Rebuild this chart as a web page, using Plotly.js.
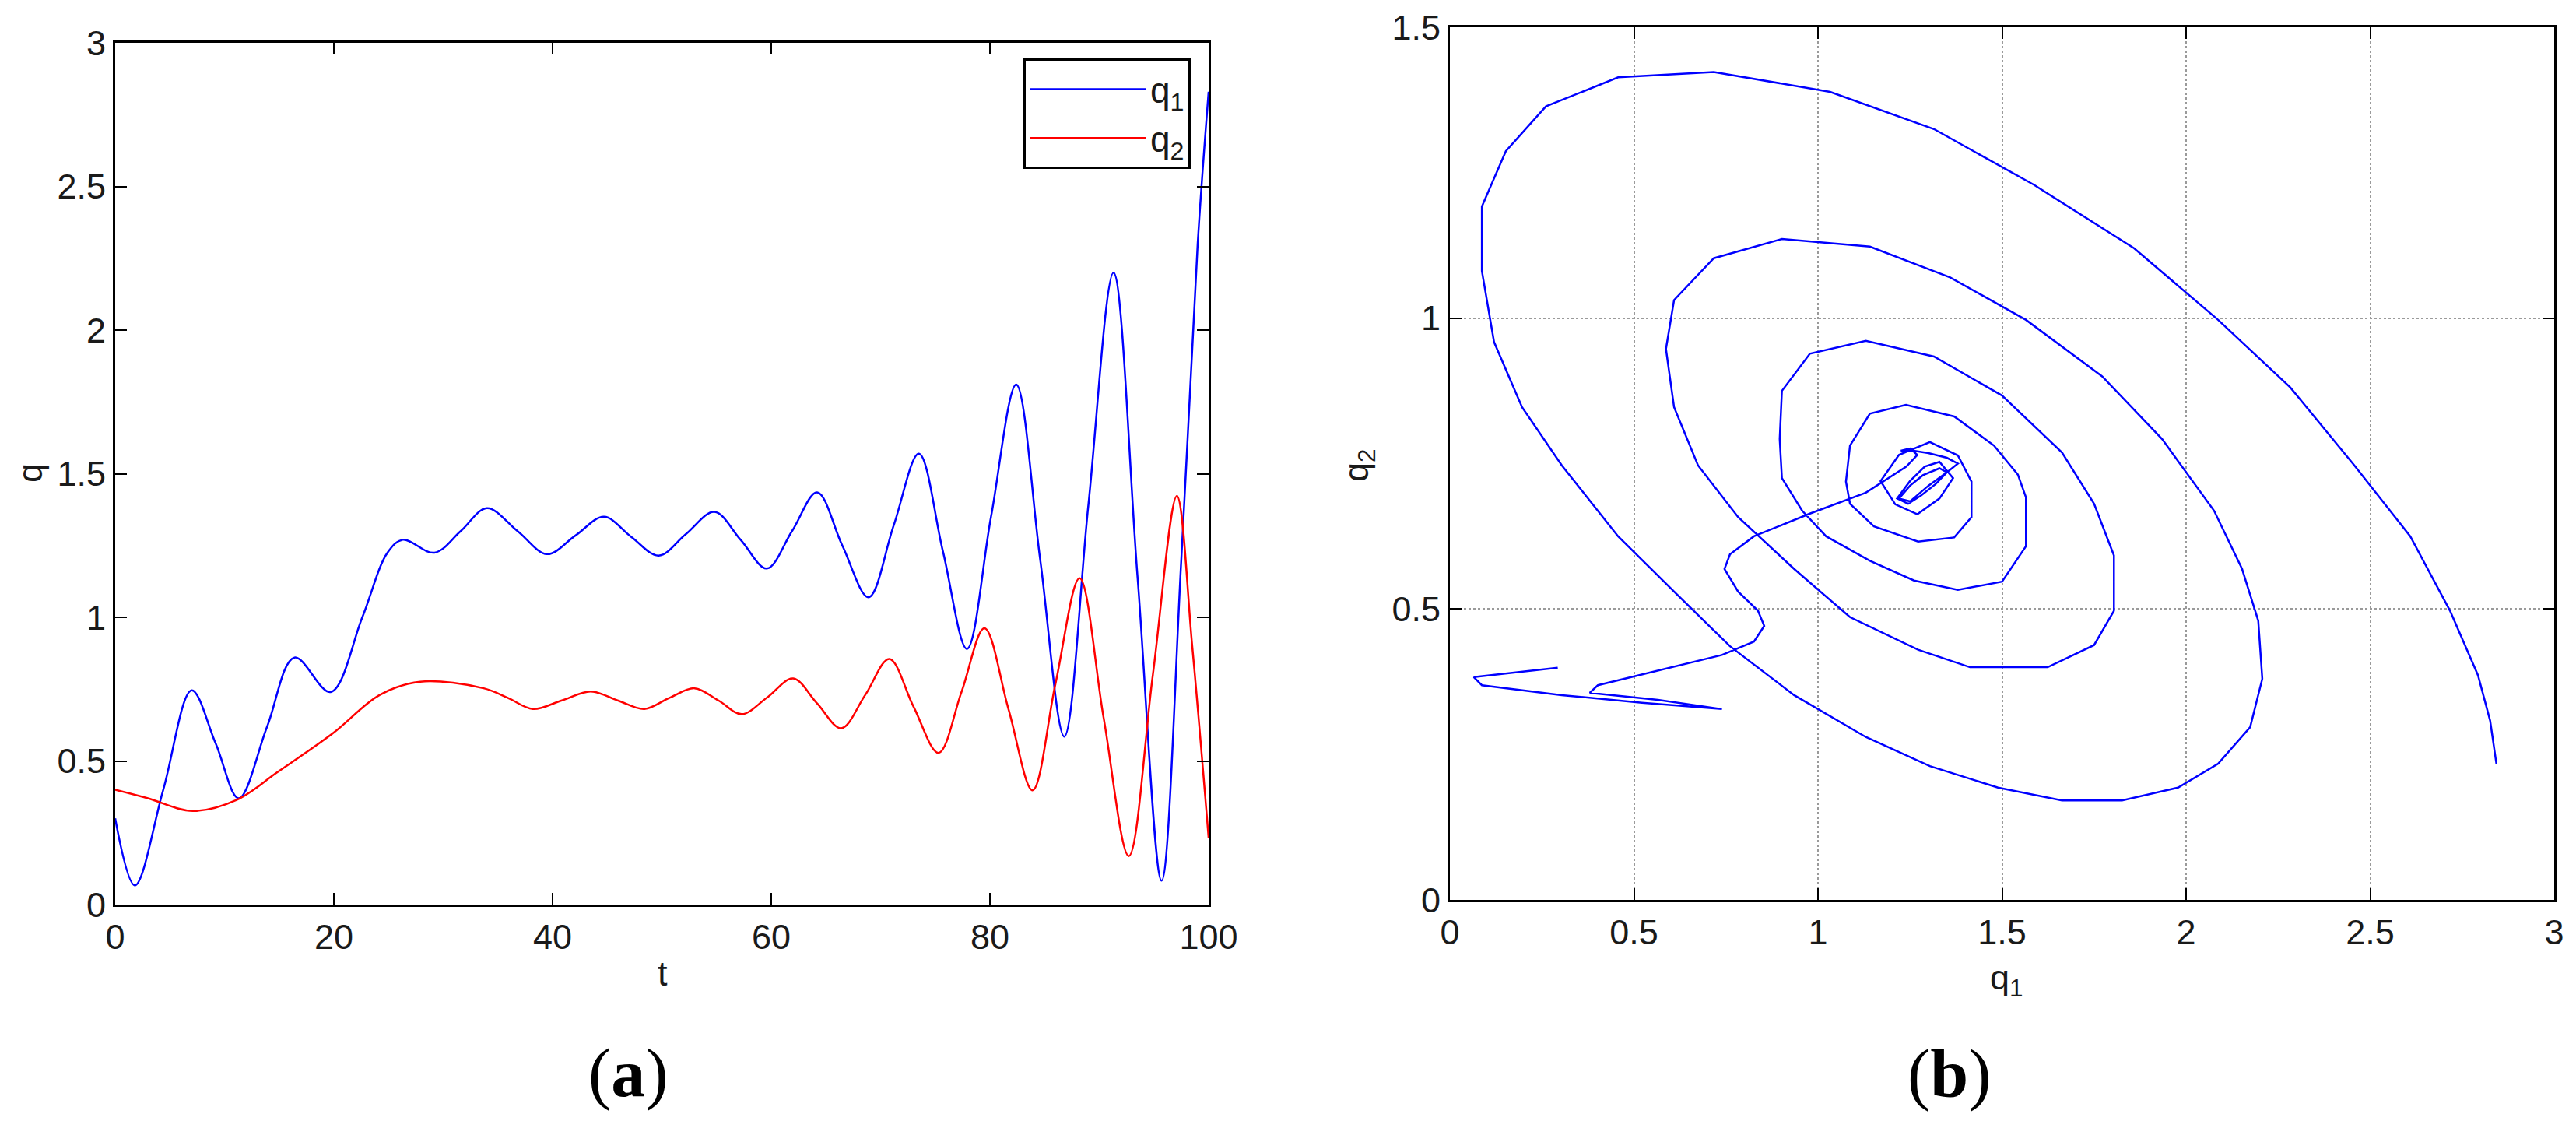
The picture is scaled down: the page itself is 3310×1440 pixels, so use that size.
<!DOCTYPE html>
<html>
<head>
<meta charset="utf-8">
<script src="https://cdn.plot.ly/plotly-3.0.1.min.js"></script>
<style>
  html, body { margin: 0; padding: 0; background: #ffffff; }
  #chart { width: 3310px; height: 1440px; }
</style>
</head>
<body>
<div id="chart"></div>
<script>
//--------------------------------------- data (a): q1, q2 over t -----------------------------------------------
var t_q1 = [0, 1.8, 4.4, 7.0, 9.2, 11.3, 13.9, 16.4, 19.7, 22.6, 24.9, 26.3, 29.2, 31.6, 34.0, 36.8,
            39.5, 42.1, 44.7, 47.2, 49.7, 52.2, 54.8, 57.2, 59.6, 61.9, 64.2, 66.5, 68.9, 71.2, 73.5,
            75.7, 77.9, 80.1, 82.4, 84.6, 86.8, 89.0, 91.3, 93.5, 95.7, 97.5, 99.0, 100];
var q1 = [0.30, 0.067, 0.40, 0.746, 0.56, 0.37, 0.62, 0.86, 0.74, 1.00, 1.225, 1.27, 1.225, 1.30, 1.38, 1.30,
          1.22, 1.285, 1.35, 1.28, 1.215, 1.29, 1.367, 1.27, 1.17, 1.30, 1.435, 1.25, 1.07, 1.32, 1.57,
          1.23, 0.89, 1.35, 1.81, 1.20, 0.585, 1.39, 2.20, 1.14, 0.083, 1.20, 2.30, 2.83];

var t_q2 = [0, 3.0, 7.1, 11.1, 14.8, 19.9, 24.2, 27.9, 33.7, 35.9, 38.2, 40.8, 43.5, 46.0, 48.4, 50.7,
            53.0, 55.2, 57.3, 59.6, 62.0, 64.2, 66.4, 68.6, 70.8, 73.0, 75.3, 77.4, 79.5, 81.7, 83.9,
            86.0, 88.2, 90.4, 92.7, 94.9, 97.1, 98.5, 100];
var q2 = [0.40, 0.37, 0.326, 0.364, 0.46, 0.596, 0.73, 0.776, 0.753, 0.72, 0.681, 0.71, 0.742, 0.71, 0.681, 0.72,
          0.753, 0.71, 0.663, 0.72, 0.787, 0.70, 0.614, 0.73, 0.855, 0.69, 0.528, 0.74, 0.962, 0.68, 0.398,
          0.77, 1.136, 0.65, 0.169, 0.80, 1.423, 0.90, 0.232];

//--------------------------------------- data (b): phase portrait q1 vs q2 -----------------------------------------------
var q1_phase = [0.293, 0.152, 0.065, 0.087, 0.304, 0.522, 0.739, 0.565, 0.380, 0.402, 0.565, 0.739, 0.826, 0.854,
                0.837, 0.783, 0.746, 0.761, 0.826, 0.978, 1.130, 1.24, 1.27, 1.25, 1.225, 1.26, 1.30, 1.35, 1.38,
                1.35, 1.30, 1.25, 1.22, 1.25, 1.285, 1.33, 1.35, 1.32, 1.28, 1.245, 1.215, 1.25, 1.29, 1.33,
                1.367, 1.33, 1.27, 1.21, 1.17, 1.22, 1.304,
                1.380, 1.417, 1.417, 1.370, 1.272, 1.152, 1.087, 1.076, 1.087, 1.141, 1.239, 1.370, 1.478, 1.543,
                1.565, 1.565, 1.50, 1.380, 1.261, 1.141, 1.022, 0.957, 0.902, 0.896, 0.902, 0.978, 1.130, 1.315,
                1.50, 1.663, 1.75, 1.804, 1.804, 1.75, 1.624, 1.413, 1.272, 1.087, 0.935, 0.783, 0.674, 0.609,
                0.587, 0.609, 0.717, 0.902, 1.141, 1.359, 1.565, 1.772, 1.935, 2.076, 2.152, 2.196, 2.207, 2.174,
                2.087, 1.978, 1.826, 1.663, 1.489, 1.304, 1.130, 0.935, 0.761, 0.609, 0.457, 0.304, 0.196, 0.120,
                0.087, 0.087, 0.152, 0.261, 0.457, 0.717, 1.033, 1.315, 1.587, 1.859, 2.087, 2.283, 2.457, 2.609,
                2.717, 2.793, 2.826, 2.843];
var q2_phase = [0.399, 0.389, 0.383, 0.369, 0.352, 0.339, 0.328, 0.344, 0.356, 0.369, 0.394, 0.421, 0.444, 0.471,
                0.497, 0.530, 0.569, 0.594, 0.625, 0.664, 0.700, 0.745, 0.765, 0.776, 0.772, 0.772, 0.768, 0.760, 0.750,
                0.735, 0.712, 0.685, 0.690, 0.712, 0.730, 0.742, 0.735, 0.715, 0.695, 0.681, 0.690, 0.720, 0.745, 0.753,
                0.725, 0.690, 0.663, 0.680, 0.720, 0.765, 0.787,
                0.764, 0.719, 0.658, 0.623, 0.616, 0.642, 0.681, 0.719, 0.781, 0.836, 0.851, 0.831, 0.781, 0.731,
                0.692, 0.608, 0.547, 0.533, 0.549, 0.583, 0.625, 0.669, 0.725, 0.792, 0.875, 0.939, 0.961, 0.934,
                0.867, 0.769, 0.681, 0.592, 0.497, 0.438, 0.400, 0.400, 0.430, 0.486, 0.569, 0.658, 0.747, 0.847,
                0.947, 1.031, 1.103, 1.136, 1.123, 1.070, 0.997, 0.900, 0.792, 0.669, 0.569, 0.480, 0.380, 0.297,
                0.234, 0.193, 0.171, 0.171, 0.193, 0.230, 0.280, 0.352, 0.436, 0.530, 0.625, 0.747, 0.847, 0.959,
                1.081, 1.192, 1.287, 1.364, 1.414, 1.423, 1.389, 1.325, 1.229, 1.120, 0.997, 0.881, 0.747, 0.625,
                0.497, 0.386, 0.308, 0.234];

//--------------------------------------- styling -----------------------------------------------
var W = 3310, H = 1440;
var tick_font = { family: "Liberation Sans, Arial, sans-serif", size: 45, color: "#1a1a1a" };

function matlabAxis(range, dtick, domain, anchor, grid) {
  return {
    range: range,
    dtick: dtick,
    tick0: 0,
    domain: domain,
    anchor: anchor,
    automargin: false,
    showline: true,
    linecolor: "#000000",
    linewidth: 3,
    mirror: "ticks",
    ticks: "inside",
    ticklen: 15,
    tickwidth: 2,
    tickcolor: "#000000",
    tickfont: tick_font,
    showgrid: grid,
    gridcolor: "#9a9a9a",
    gridwidth: 2,
    griddash: "dot",
    zeroline: false,
    fixedrange: true
  };
}

var trace_q1 = {
  x: t_q1, y: q1,
  type: "scatter", mode: "lines",
  name: "q<sub>1</sub>",
  line: { color: "#0000ff", width: 2.5, shape: "spline", smoothing: 1 },
  xaxis: "x", yaxis: "y"
};
var trace_q2 = {
  x: t_q2, y: q2,
  type: "scatter", mode: "lines",
  name: "q<sub>2</sub>",
  line: { color: "#ff0000", width: 2.5, shape: "spline", smoothing: 1 },
  xaxis: "x", yaxis: "y"
};
var trace_phase = {
  x: q1_phase, y: q2_phase,
  type: "scatter", mode: "lines",
  showlegend: false,
  line: { color: "#0000ff", width: 2.5 },
  xaxis: "x2", yaxis: "y2"
};

var xa = matlabAxis([0, 100], 20, [148 / W, 1553 / W], "y", false);
var ya = matlabAxis([0, 3], 0.5, [(H - 1162) / H, (H - 55) / H], "x", false);
var xa2 = matlabAxis([0, 3], 0.5, [1863 / W, 3282 / W], "y2", true);
var ya2 = matlabAxis([0, 1.5], 0.5, [(H - 1156) / H, (H - 35) / H], "x2", true);

// axis titles placed as paper annotations (standoff is ignored without automargin)
function label(text, px, py, angle, font) {
  return { text: text, xref: "paper", yref: "paper", x: px / W, y: (H - py) / H,
           xanchor: "center", yanchor: "middle", textangle: angle || 0,
           showarrow: false, font: font };
}

var caption_font = { family: "Liberation Serif, Times New Roman, serif", size: 88, color: "#000000" };

var layout = {
  width: W,
  height: H,
  margin: { t: 0, r: 0, l: 0, b: 0 },
  paper_bgcolor: "#ffffff",
  plot_bgcolor: "#ffffff",
  xaxis: xa, yaxis: ya,
  xaxis2: xa2, yaxis2: ya2,
  showlegend: true,
  legend: {
    x: 1530 / W, xanchor: "right",
    y: (H - 75) / H, yanchor: "top",
    bgcolor: "#ffffff",
    bordercolor: "#000000",
    borderwidth: 3,
    itemwidth: 150,
    font: { family: "Liberation Sans, Arial, sans-serif", size: 46, color: "#1a1a1a" }
  },
  annotations: [
    label("t", 851, 1250, 0, tick_font),
    label("q", 38, 608, -90, tick_font),
    label("q<sub>1</sub>", 2578, 1258, 0, tick_font),
    label("q<sub>2</sub>", 1745, 598, -90, tick_font),
    label("(<b>a</b>)", 807, 1378, 0, caption_font),
    label("(<b>b</b>)", 2505, 1379, 0, caption_font)
  ]
};

var config = { displayModeBar: false, staticPlot: true };

Plotly.newPlot("chart", [trace_q1, trace_q2, trace_phase], layout, config);
</script>
</body>
</html>
